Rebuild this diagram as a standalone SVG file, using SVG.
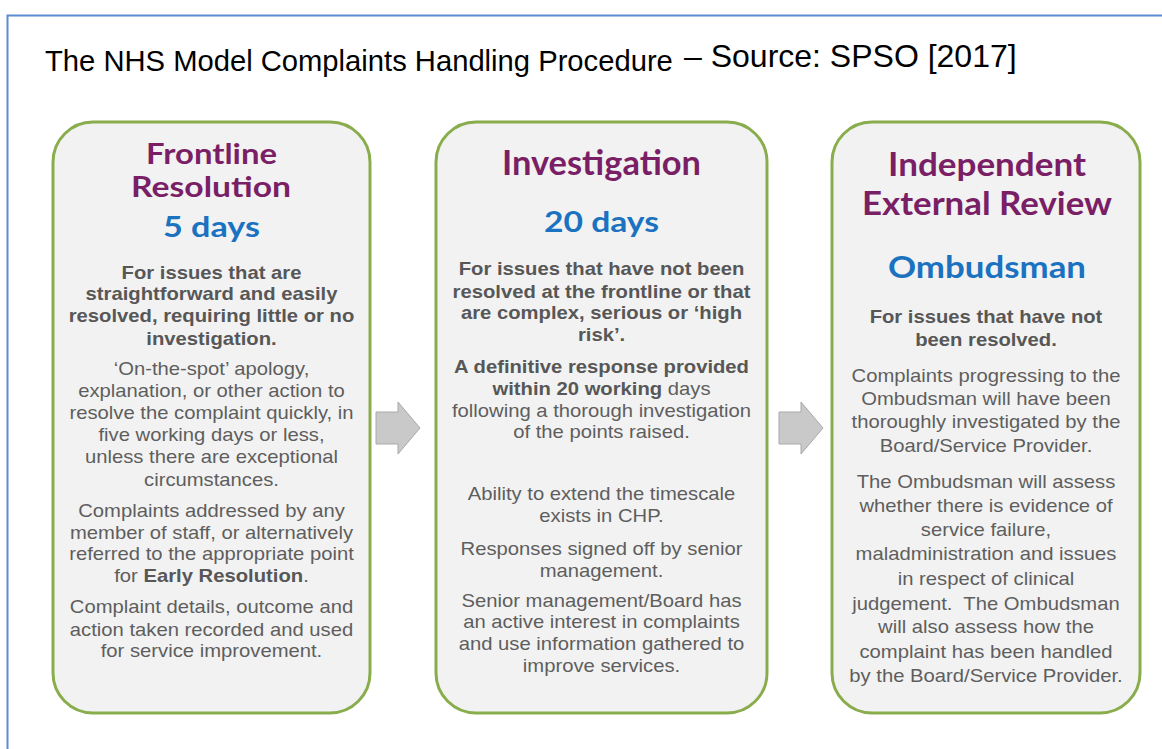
<svg xmlns="http://www.w3.org/2000/svg" width="1162" height="749" viewBox="0 0 1162 749">
<style>
.frame{fill:none;stroke:#5b8bd0;stroke-width:2}
.title{font-family:"Liberation Sans",Arial,sans-serif;fill:#000}
.box{fill:#f2f2f2;stroke:#89ad4c;stroke-width:3}
.hd{font-family:Lato,"Open Sans",sans-serif;font-weight:bold;fill:#7a1f66}
.days{font-family:Lato,"Open Sans",sans-serif;font-weight:bold;fill:#1a72c0}
.tx{font-family:"Liberation Sans",Arial,sans-serif;font-size:18px;fill:#5e5e5e;text-anchor:middle}
.b{font-weight:bold;fill:#575757}
.arrow{fill:#c9c9c9;stroke:#a9a9a9;stroke-width:1}
</style>
<rect width="1162" height="749" fill="#ffffff"/>
<path class="frame" d="M7.5,760 V15.5 H1170"/>
<text class="title" x="45" y="71" font-size="29.2">The NHS Model Complaints Handling Procedure </text>
<text class="title" x="684" y="67" font-size="32">– Source: SPSO [2017]</text>

<g id="node-frontline">
<rect class="box" x="53" y="122" width="317" height="591" rx="40" ry="40"/>
<text class="hd" x="146" y="164" font-size="29" textLength="131" lengthAdjust="spacingAndGlyphs">Frontline</text>
<text class="hd" x="131" y="197" font-size="29" textLength="160" lengthAdjust="spacingAndGlyphs">Resolution</text>
<text class="days" x="163" y="237" font-size="28" textLength="97" lengthAdjust="spacingAndGlyphs">5 days</text>
<g transform="translate(211.5 0) scale(1.125 1)">
<text class="tx b" x="0" y="279">For issues that are</text>
<text class="tx b" x="0" y="300">straightforward and easily</text>
<text class="tx b" x="0" y="322">resolved, requiring little or no</text>
<text class="tx b" x="0" y="345">investigation.</text>
<text class="tx" x="0" y="375">‘On-the-spot’ apology,</text>
<text class="tx" x="0" y="397">explanation, or other action to</text>
<text class="tx" x="0" y="419">resolve the complaint quickly, in</text>
<text class="tx" x="0" y="441">five working days or less,</text>
<text class="tx" x="0" y="463">unless there are exceptional</text>
<text class="tx" x="0" y="486">circumstances.</text>
<text class="tx" x="0" y="517">Complaints addressed by any</text>
<text class="tx" x="0" y="539">member of staff, or alternatively</text>
<text class="tx" x="0" y="560">referred to the appropriate point</text>
<text class="tx" x="0" y="582">for <tspan class="b">Early Resolution</tspan>.</text>
<text class="tx" x="0" y="613">Complaint details, outcome and</text>
<text class="tx" x="0" y="636">action taken recorded and used</text>
<text class="tx" x="0" y="657">for service improvement.</text>
</g>
</g>

<g id="node-investigation">
<rect class="box" x="436" y="122" width="331" height="591" rx="40" ry="40"/>
<text class="hd" x="502" y="175" font-size="35" textLength="199" lengthAdjust="spacingAndGlyphs">Investigation</text>
<text class="days" x="544" y="232" font-size="28" textLength="115" lengthAdjust="spacingAndGlyphs">20 days</text>
<g transform="translate(601.5 0) scale(1.125 1)">
<text class="tx b" x="0" y="275">For issues that have not been</text>
<text class="tx b" x="0" y="298">resolved at the frontline or that</text>
<text class="tx b" x="0" y="319">are complex, serious or ‘high</text>
<text class="tx b" x="0" y="341">risk’.</text>
<text class="tx b" x="0" y="373">A definitive response provided</text>
<text class="tx" x="0" y="395"><tspan class="b">within 20 working</tspan> days</text>
<text class="tx" x="0" y="417">following a thorough investigation</text>
<text class="tx" x="0" y="438">of the points raised.</text>
<text class="tx" x="0" y="500">Ability to extend the timescale</text>
<text class="tx" x="0" y="522">exists in CHP.</text>
<text class="tx" x="0" y="555">Responses signed off by senior</text>
<text class="tx" x="0" y="577">management.</text>
<text class="tx" x="0" y="607">Senior management/Board has</text>
<text class="tx" x="0" y="628">an active interest in complaints</text>
<text class="tx" x="0" y="650">and use information gathered to</text>
<text class="tx" x="0" y="672">improve services.</text>
</g>
</g>

<g id="node-review">
<rect class="box" x="832" y="122" width="308" height="591" rx="40" ry="40"/>
<text class="hd" x="888" y="176" font-size="33" textLength="198" lengthAdjust="spacingAndGlyphs">Independent</text>
<text class="hd" x="862" y="215" font-size="33" textLength="250" lengthAdjust="spacingAndGlyphs">External Review</text>
<text class="days" x="888" y="278" font-size="30" textLength="198" lengthAdjust="spacingAndGlyphs">Ombudsman</text>
<g transform="translate(986 0) scale(1.125 1)">
<text class="tx b" x="0" y="323">For issues that have not</text>
<text class="tx b" x="0" y="346">been resolved.</text>
<text class="tx" x="0" y="382">Complaints progressing to the</text>
<text class="tx" x="0" y="405">Ombudsman will have been</text>
<text class="tx" x="0" y="428">thoroughly investigated by the</text>
<text class="tx" x="0" y="452">Board/Service Provider.</text>
<text class="tx" x="0" y="488">The Ombudsman will assess</text>
<text class="tx" x="0" y="512">whether there is evidence of</text>
<text class="tx" x="0" y="536">service failure,</text>
<text class="tx" x="0" y="560">maladministration and issues</text>
<text class="tx" x="0" y="585">in respect of clinical</text>
<text class="tx" x="0" y="610">judgement.&#160; The Ombudsman</text>
<text class="tx" x="0" y="633">will also assess how the</text>
<text class="tx" x="0" y="658">complaint has been handled</text>
<text class="tx" x="0" y="682">by the Board/Service Provider.</text>
</g>
</g>

<g id="connectors">
<polygon class="arrow" points="376,412 398,412 398,402 420,428 398,454 398,444 376,444"/>
<polygon class="arrow" points="779,412 801,412 801,402 823,428 801,454 801,444 779,444"/>
</g>
</svg>
